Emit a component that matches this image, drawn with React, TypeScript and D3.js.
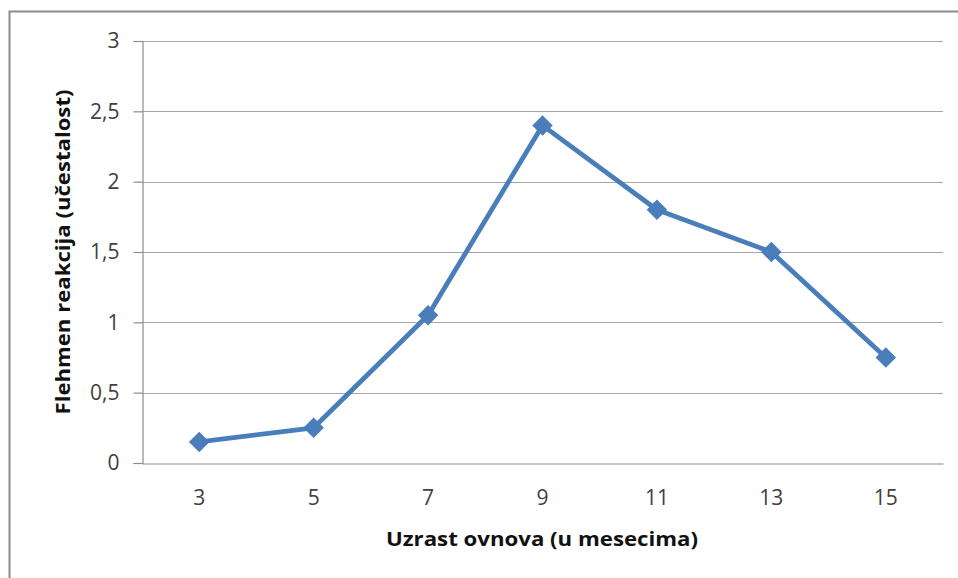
import React, { useEffect, useRef } from 'react';
import * as d3 from 'd3';

// values
const months = ['3', '5', '7', '9', '11', '13', '15'];
const flehmen = [0.15, 0.25, 1.05, 2.4, 1.8, 1.5, 0.75];
const yTicks = [0, 0.5, 1, 1.5, 2, 2.5, 3];

const W = 958;
const H = 578;

const App = () => {
  const svgRef = useRef<SVGSVGElement>(null);

  useEffect(() => {
    const svg = d3.select(svgRef.current);
    svg.selectAll('*').remove();

    const left = 142, right = 943, top = 41, bottom = 463;
    const x = d3.scaleBand().domain(months).range([left, right]);
    const y = d3.scaleLinear().domain([0, 3]).range([bottom, top]);

    // outer chart frame
    svg.append('rect')
      .attr('x', 9.5).attr('y', 11.5)
      .attr('width', W + 20).attr('height', H + 20)
      .attr('fill', 'white')
      .attr('stroke', '#8c8c8c')
      .attr('stroke-width', 2);

    // gridlines
    svg.append('g')
      .selectAll('line')
      .data(yTicks.filter(t => t > 0))
      .join('line')
      .attr('x1', left).attr('x2', right)
      .attr('y1', d => Math.round(y(d)) + 0.5)
      .attr('y2', d => Math.round(y(d)) + 0.5)
      .attr('stroke', '#a6a6a6')
      .attr('stroke-width', 1.2);

    // y axis
    const yAxis = d3.axisLeft(y).tickValues(yTicks).tickSize(9).tickPadding(14)
      .tickFormat(d => d3.format('~g')(d as number).replace('.', ','));
    svg.append('g')
      .attr('transform', `translate(${left + 0.5},0)`)
      .call(yAxis)
      .call(g => g.selectAll('.domain').attr('stroke', '#8c8c8c').attr('stroke-width', 1.2))
      .call(g => g.selectAll('.tick line').attr('stroke', '#8c8c8c').attr('stroke-width', 1.2))
      .call(g => g.selectAll('.tick text')
        .attr('font-family', '"Open Sans", sans-serif')
        .attr('font-size', 21)
        .attr('fill', '#404040'));

    // x axis baseline + labels
    const xAxis = d3.axisBottom(x).tickSize(0).tickPadding(27);
    svg.append('g')
      .attr('transform', `translate(0,${bottom + 0.5})`)
      .call(xAxis)
      .call(g => g.selectAll('.domain').attr('stroke', '#8c8c8c').attr('stroke-width', 1.2))
      .call(g => g.selectAll('.tick text')
        .attr('font-family', '"Open Sans", sans-serif')
        .attr('font-size', 21)
        .attr('fill', '#404040'));

    const cx = (i: number) => (x(months[i]) as number) + x.bandwidth() / 2;

    // series line
    const line = d3.line<number>()
      .x((_, i) => cx(i))
      .y(d => y(d));
    svg.append('path')
      .datum(flehmen)
      .attr('d', line)
      .attr('fill', 'none')
      .attr('stroke', '#4a7ebb')
      .attr('stroke-width', 4.8)
      .attr('stroke-linejoin', 'round');

    // diamond markers
    const diamond = d3.symbol().type(d3.symbolSquare).size(210);
    svg.append('g')
      .selectAll('path')
      .data(flehmen)
      .join('path')
      .attr('d', diamond)
      .attr('transform', (d, i) => `translate(${cx(i)},${y(d)}) rotate(45)`)
      .attr('fill', '#4a7ebb');

    // axis titles
    svg.append('text')
      .text('Uzrast ovnova (u mesecima)')
      .attr('x', 542)
      .attr('y', 546)
      .attr('text-anchor', 'middle')
      .attr('textLength', 312)
      .attr('lengthAdjust', 'spacingAndGlyphs')
      .attr('font-family', '"Open Sans", sans-serif')
      .attr('font-weight', 'bold')
      .attr('font-size', 19)
      .attr('fill', '#111');

    svg.append('text')
      .text('Flehmen reakcija (učestalost)')
      .attr('transform', `translate(70,${(top + bottom) / 2}) rotate(-90)`)
      .attr('text-anchor', 'middle')
      .attr('textLength', 325)
      .attr('lengthAdjust', 'spacingAndGlyphs')
      .attr('font-family', '"Open Sans", sans-serif')
      .attr('font-weight', 'bold')
      .attr('font-size', 19)
      .attr('fill', '#111');
  }, []);

  return (
    <svg ref={svgRef} width={W} height={H} viewBox={`0 0 ${W} ${H}`}
      style={{ position: 'absolute', left: 0, top: 0, background: 'white' }} />
  );
};

export default App;
